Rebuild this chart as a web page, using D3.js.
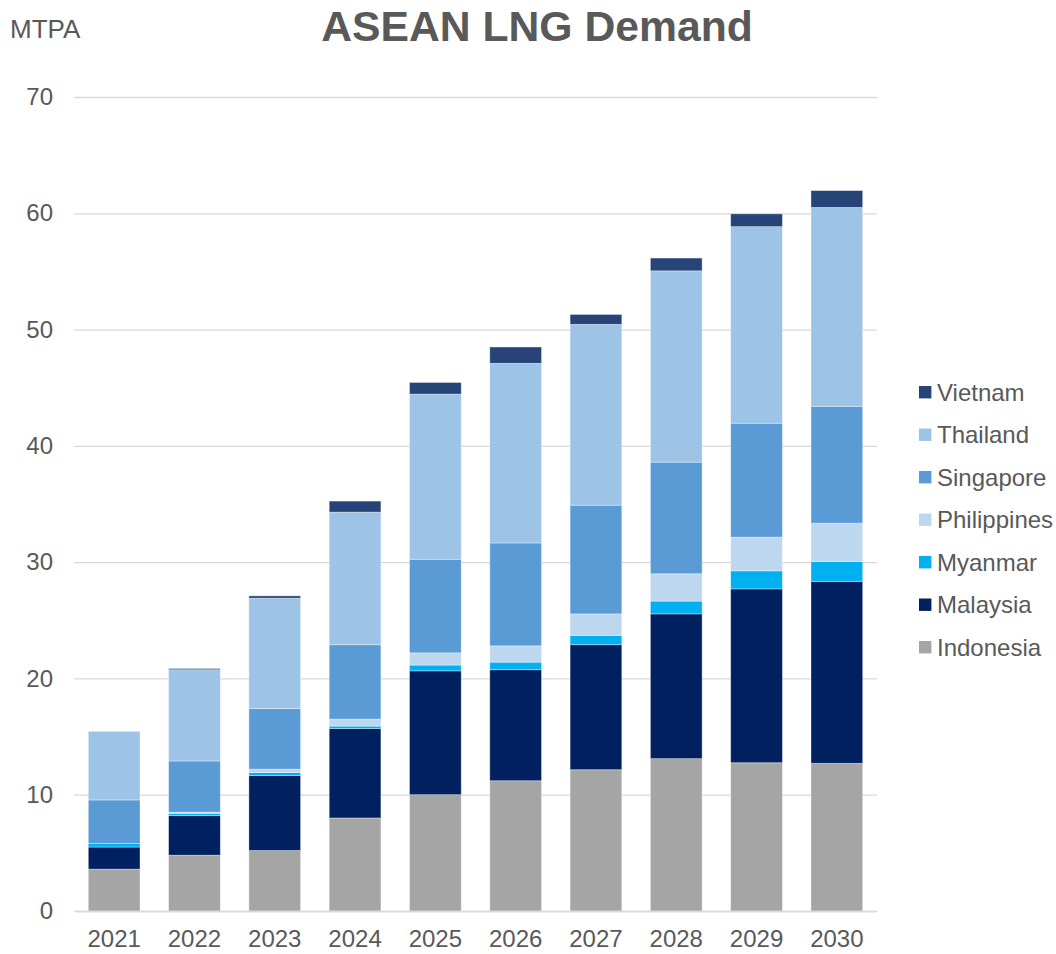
<!DOCTYPE html>
<html>
<head>
<meta charset="utf-8">
<script src="https://cdn.jsdelivr.net/npm/d3@7"></script>
<style>
  body { margin: 0; background: #fff; }
  svg text { font-family: "Liberation Sans", Arial, sans-serif; }
</style>
</head>
<body>
<div id="chart"></div>
<script>
// data (MTPA)
const years = ['2021', '2022', '2023', '2024', '2025', '2026', '2027', '2028', '2029', '2030'];
const indonesia   = [3.6, 4.8, 5.2, 8.0, 10.0, 11.2, 12.15, 13.1, 12.75, 12.7];
const malaysia    = [1.9, 3.4, 6.45, 7.7, 10.65, 9.55, 10.75, 12.45, 14.95, 15.65];
const myanmar     = [0.3, 0.2, 0.25, 0.2, 0.5, 0.65, 0.8, 1.1, 1.55, 1.7];
const philippines = [0, 0.1, 0.3, 0.6, 1.05, 1.4, 1.85, 2.35, 2.9, 3.3];
const singapore   = [3.75, 4.4, 5.2, 6.4, 8.05, 8.85, 9.35, 9.6, 9.8, 10.05];
const thailand    = [5.9, 7.85, 9.5, 11.4, 14.2, 15.45, 15.55, 16.45, 16.9, 17.1];
const vietnam     = [0, 0.1, 0.2, 0.95, 1.0, 1.4, 0.85, 1.1, 1.1, 1.45];
const yTicks = [0, 10, 20, 30, 40, 50, 60, 70];

const seriesNames = ['Indonesia', 'Malaysia', 'Myanmar', 'Philippines', 'Singapore', 'Thailand', 'Vietnam'];
const seriesValues = [indonesia, malaysia, myanmar, philippines, singapore, thailand, vietnam];
const colors = ['#A5A5A5', '#002060', '#00B0F0', '#BDD7EE', '#5B9BD5', '#9DC3E6', '#264478'];

const width = 1056;
const height = 954;
const margins = { top: 97, bottom: 43, left: 74, right: 179 };

const svg = d3.select('#chart')
    .append('svg')
    .attr('width', width)
    .attr('height', height);

const chartWidth = width - margins.left - margins.right;
const chartHeight = height - margins.top - margins.bottom;

const chart = svg.append('g')
    .attr('transform', `translate(${margins.left}, ${margins.top})`);

// build rows for d3.stack
const table = years.map((yr, i) => {
    const row = { year: yr };
    seriesNames.forEach((name, s) => { row[name] = seriesValues[s][i]; });
    return row;
});
const stacked = d3.stack().keys(seriesNames)(table);

const xScale = d3.scaleBand()
    .domain(years)
    .range([0, chartWidth])
    .paddingInner(0.356)
    .paddingOuter(0.178);

const yScale = d3.scaleLinear()
    .domain([0, 70])
    .range([chartHeight, 0]);

// gridlines
const yGrid = d3.axisLeft(yScale)
    .tickValues(yTicks)
    .tickSize(-chartWidth)
    .tickFormat('');

chart.append('g')
    .call(yGrid)
    .call(g => g.select('.domain').remove())
    .selectAll('line')
    .attr('stroke', '#d9d9d9')
    .attr('stroke-width', 1.3);

// bars
chart.append('g')
    .selectAll('g')
    .data(stacked)
    .enter()
    .append('g')
    .attr('fill', (d, i) => colors[i])
    .selectAll('rect')
    .data(d => d)
    .enter()
    .append('rect')
    .attr('x', d => xScale(d.data.year))
    .attr('width', xScale.bandwidth())
    .attr('y', d => yScale(d[1]))
    .attr('height', d => Math.max(0, yScale(d[0]) - yScale(d[1])))
    .attr('stroke', 'rgba(255,255,255,0.45)')
    .attr('stroke-width', 0.8);

// y axis labels
const yAxis = d3.axisLeft(yScale)
    .tickValues(yTicks)
    .tickSize(0)
    .tickPadding(21);

chart.append('g')
    .call(yAxis)
    .call(g => g.select('.domain').remove())
    .selectAll('text')
    .attr('fill', '#595959')
    .style('font-size', '24px');

// x axis
const xAxis = d3.axisBottom(xScale).tickSize(0).tickPadding(19);

chart.append('g')
    .attr('transform', `translate(0, ${chartHeight})`)
    .call(xAxis)
    .call(g => g.select('.domain').attr('stroke', '#d9d9d9').attr('stroke-width', 1.3))
    .selectAll('text')
    .attr('fill', '#595959')
    .style('font-size', '24px');

// title + unit
svg.append('text')
    .attr('x', 537)
    .attr('y', 41)
    .attr('text-anchor', 'middle')
    .attr('fill', '#595959')
    .style('font-size', '42.7px')
    .style('font-weight', 'bold')
    .text('ASEAN LNG Demand');

svg.append('text')
    .attr('x', 10)
    .attr('y', 38)
    .attr('fill', '#595959')
    .style('font-size', '26px')
    .text('MTPA');

// legend, top entry is the last series
const legend = svg.append('g')
    .attr('transform', 'translate(919, 392)');

const legendItems = legend.selectAll('g')
    .data(seriesNames.slice().reverse())
    .enter()
    .append('g')
    .attr('transform', (d, i) => `translate(0, ${i * 42.5})`);

legendItems.append('rect')
    .attr('x', 0)
    .attr('y', -6)
    .attr('width', 12.4)
    .attr('height', 12.4)
    .attr('fill', d => colors[seriesNames.indexOf(d)]);

legendItems.append('text')
    .attr('x', 18)
    .attr('y', 8.5)
    .attr('fill', '#595959')
    .style('font-size', '24px')
    .text(d => d);
</script>
</body>
</html>
